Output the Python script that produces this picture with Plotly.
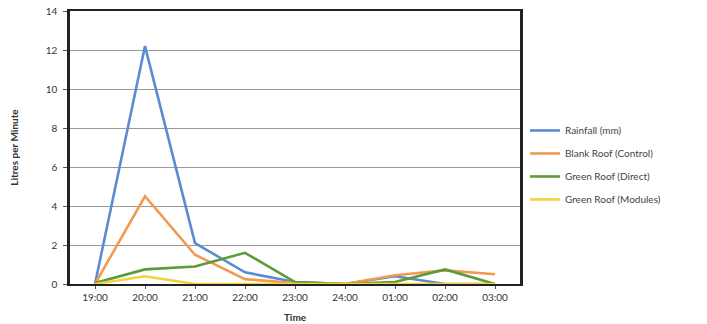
import plotly.graph_objects as go

times = ["19:00", "20:00", "21:00", "22:00", "23:00", "24:00", "01:00", "02:00", "03:00"]
rainfall = [0, 12.2, 2.1, 0.6, 0.1, 0, 0.4, 0, 0]
blank_roof = [0, 4.5, 1.5, 0.25, 0.05, 0, 0.45, 0.7, 0.5]
green_direct = [0.05, 0.75, 0.9, 1.6, 0.1, 0, 0.1, 0.75, 0]
green_modules = [0, 0.4, 0, 0, 0, 0, 0, 0, 0]

series = [
    ("Rainfall (mm)", rainfall, "#5b8bd0"),
    ("Blank Roof (Control)", blank_roof, "#f29a52"),
    ("Green Roof (Direct)", green_direct, "#5c9a3a"),
    ("Green Roof (Modules)", green_modules, "#f3d23c"),
]

fig = go.Figure()
for name, vals, col in series:
    fig.add_trace(go.Scatter(x=times, y=vals, name=name, mode="lines",
                             legendgroup=name,
                             line=dict(color=col, width=2.6)))

font = "Lato, 'Open Sans', sans-serif"
fig.update_layout(
    width=707, height=324,
    margin=dict(l=70, r=187, t=11, b=40),
    paper_bgcolor="white", plot_bgcolor="white",
    font=dict(family=font, size=10, color="#333"),
    showlegend=True,
    legend=dict(x=1.011, y=0.436, xanchor="left", yanchor="middle",
                font=dict(size=10, color="#444"), tracegroupgap=4,
                bgcolor="rgba(0,0,0,0)"),
    xaxis=dict(type="category", range=[-0.5, 8.5], showgrid=False,
               showline=True, linecolor="#222", linewidth=2, mirror=True,
               ticks="outside", ticklen=3, tickcolor="#555", automargin=False,
               title=dict(text="<b>Time</b>", font=dict(size=10, color="#333"), standoff=12),
               tickfont=dict(size=10, color="#333")),
    yaxis=dict(range=[0, 14], dtick=2, showgrid=True, gridcolor="#999999", gridwidth=1.3,
               showline=True, linecolor="#222", linewidth=2.5, mirror=True,
               ticks="outside", ticklen=4, tickcolor="#555", zeroline=False, automargin=False,
               ticklabelstandoff=4,
               title=dict(text="<b>Litres per Minute</b>", font=dict(size=10, color="#333"), standoff=26),
               tickfont=dict(size=10, color="#333")),
)
fig.write_html("out.html", config={"displayModeBar": False},
               post_script="document.body.style.margin='0';")
